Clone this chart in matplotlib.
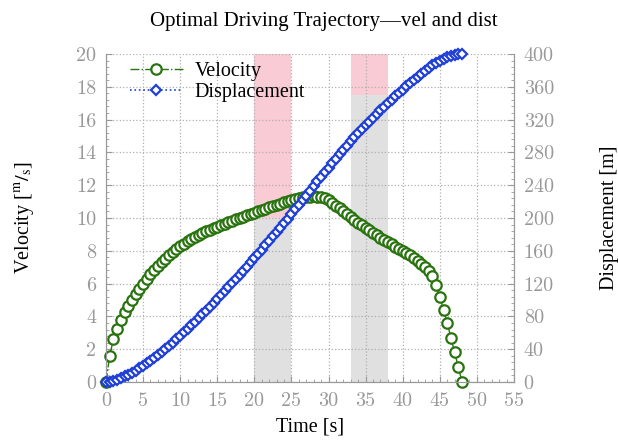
import numpy as np
import matplotlib
matplotlib.use("Agg")
from matplotlib import pyplot as plt
from matplotlib.ticker import MultipleLocator, AutoMinorLocator

plt.rcParams['font.family'] = ['Liberation Serif', 'DejaVu Serif']
plt.rcParams['mathtext.fontset'] = 'stix'

# time grid (s), 0.5 s step
time = np.linspace(0, 48, 97)

# velocity [m/s]
velocity = [0.0, 1.6, 2.6, 3.25, 3.8, 4.25, 4.65, 5.0, 5.35, 5.7,
            6.0, 6.3, 6.58, 6.83, 7.07, 7.3, 7.52, 7.72, 7.92, 8.1,
            8.27, 8.43, 8.58, 8.72, 8.85, 8.97, 9.08, 9.19, 9.29, 9.39,
            9.48, 9.57, 9.66, 9.75, 9.84, 9.93, 10.01, 10.09, 10.17, 10.25,
            10.33, 10.41, 10.49, 10.57, 10.65, 10.73, 10.81, 10.88, 10.95, 11.02,
            11.09, 11.15, 11.2, 11.25, 11.28, 11.3, 11.31, 11.3, 11.27, 11.2,
            11.08, 10.93, 10.76, 10.58, 10.4, 10.22, 10.05, 9.88, 9.72, 9.56,
            9.4, 9.25, 9.1, 8.95, 8.8, 8.66, 8.52, 8.39, 8.26, 8.13,
            8.0, 7.86, 7.72, 7.57, 7.4, 7.2, 7.0, 6.75, 6.45, 5.9,
            5.2, 4.4, 3.6, 2.7, 1.8, 0.9, 0.0]

# displacement [m]
displacement = [0.0, 0.4, 1.5, 2.9, 4.7, 6.7, 9.0, 11.4, 14.0, 16.8,
                19.7, 22.8, 26.1, 29.4, 32.9, 36.5, 40.3, 44.1, 48.0, 52.1,
                56.2, 60.4, 64.6, 69.0, 73.4, 77.9, 82.4, 87.0, 91.7, 96.4,
                101.1, 105.9, 110.7, 115.6, 120.5, 125.5, 130.5, 135.6, 140.7, 145.8,
                151.0, 156.2, 161.5, 166.8, 172.1, 177.5, 182.9, 188.3, 193.8, 199.3,
                204.9, 210.5, 216.1, 221.8, 227.4, 233.1, 238.8, 244.5, 250.2, 255.8,
                261.4, 266.9, 272.4, 277.8, 283.0, 288.2, 293.3, 298.3, 303.3, 308.1,
                312.9, 317.6, 322.2, 326.7, 331.2, 335.6, 339.9, 344.1, 348.3, 352.5,
                356.5, 360.5, 364.4, 368.3, 372.0, 375.7, 379.3, 382.7, 386.0, 389.1,
                391.9, 394.4, 396.4, 397.9, 399.1, 399.8, 400.0]

# shaded windows: (t_start, t_end, split velocity) grey below split, pink above
windows = [(20, 25, 10.0), (33, 38, 17.5)]

green = '#2a7410'
blue = '#1f3fd8'
tick_grey = '#999999'

fig = plt.figure(figsize=(6.18, 4.45), dpi=100)
ax = fig.add_axes([0.1715, 0.1416, 0.6602, 0.7371])
ax2 = ax.twinx()

for t0, t1, split in windows:
    ax.fill_between([t0, t1], 0, split, color='#e0e0e0', lw=0, zorder=0.2)
    ax.fill_between([t0, t1], split, 20, color='#f9cbd4', lw=0, zorder=0.2)

l1, = ax.plot(time, velocity, '-.', color=green, marker='o', ms=7.5,
              mfc='white', mec=green, mew=1.6, lw=1.0, label='Velocity',
              zorder=3, clip_on=False)
l2, = ax2.plot(time, displacement, ':', color=blue, marker='D', ms=5.0,
               mfc='white', mec=blue, mew=1.6, lw=1.2, label='Displacement',
               zorder=3, clip_on=False)

ax.set_xlim(0, 55)
ax.set_ylim(0, 20)
ax2.set_ylim(0, 400)

ax.xaxis.set_major_locator(MultipleLocator(5))
ax.yaxis.set_major_locator(MultipleLocator(2))
ax2.yaxis.set_major_locator(MultipleLocator(40))
ax.xaxis.set_minor_locator(AutoMinorLocator(5))
ax.yaxis.set_minor_locator(AutoMinorLocator(5))
ax2.yaxis.set_minor_locator(AutoMinorLocator(5))

ax.set_axisbelow(True)
ax.grid(True, which='major', ls=':', color='#b0b0b0', lw=0.9)

for a in (ax, ax2):
    a.tick_params(which='both', direction='in', color=tick_grey,
                  labelcolor=tick_grey, labelsize=14.5, labelfontfamily='cmr10')
    a.tick_params(which='major', length=4, width=0.8)
    a.tick_params(which='minor', length=2, width=0.6)
    a.spines['top'].set_visible(False)
    for s in ('left', 'right', 'bottom'):
        a.spines[s].set_color(tick_grey)
        a.spines[s].set_linewidth(0.8)
ax.tick_params(axis='x', pad=7)
ax.tick_params(axis='y', pad=7)
ax2.tick_params(axis='y', pad=7)

ax.set_xlabel('Time [s]', fontsize=14.5, labelpad=6)
ax.set_ylabel(r'Velocity [$^{\mathrm{m}}/_{\mathrm{s}}$]', fontsize=14.5, labelpad=28)
ax2.set_ylabel('Displacement [m]', fontsize=14.5, labelpad=33)
ax.set_title('Optimal Driving Trajectory\u2014vel and dist', fontsize=15, pad=20, x=0.534)

ax2.legend(handles=[l1, l2], loc='upper left', bbox_to_anchor=(0.03, 1.012),
           frameon=False, fontsize=14.5, handlelength=2.6, handletextpad=0.6,
           borderaxespad=0.2, labelspacing=0.1)

fig.savefig('out.png', dpi=100)
